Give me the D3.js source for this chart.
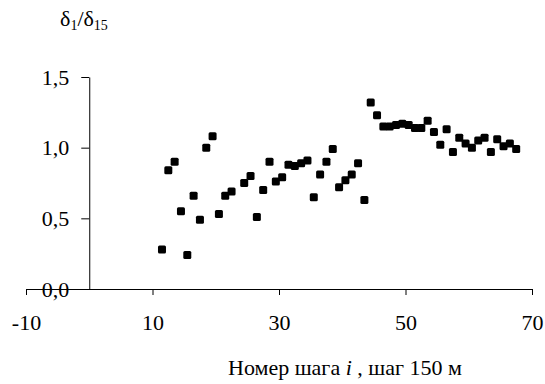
<!DOCTYPE html>
<html>
<head>
<meta charset="utf-8">
<script src="https://cdn.jsdelivr.net/npm/d3@7"></script>
<style>
	body { margin: 0; background: #fff; }
</style>
</head>
<body>
<div id="chart"></div>
<script>
// step number i (150 m step)
var stepNo = [11.5, 12.5, 13.5, 14.5, 15.5, 16.5, 17.5, 18.5, 19.5, 20.5,
	21.5, 22.5, 24.5, 25.5, 26.5, 27.5, 28.5, 29.5, 30.5, 31.5,
	32.5, 33.5, 34.5, 35.5, 36.5, 37.5, 38.5, 39.5, 40.5, 41.5,
	42.5, 43.5, 44.5, 45.5, 46.5, 47.5, 48.5, 49.5, 50.5, 51.5,
	52.5, 53.5, 54.5, 55.5, 56.5, 57.5, 58.5, 59.5, 60.5, 61.5,
	62.5, 63.5, 64.5, 65.5, 66.5, 67.5];

// ratio d1/d15
var ratio = [0.28, 0.84, 0.90, 0.55, 0.24, 0.66, 0.49, 1.00, 1.08, 0.53,
	0.66, 0.69, 0.75, 0.80, 0.51, 0.70, 0.90, 0.76, 0.79, 0.88,
	0.87, 0.89, 0.91, 0.65, 0.81, 0.90, 0.99, 0.72, 0.77, 0.81,
	0.89, 0.63, 1.32, 1.23, 1.15, 1.15, 1.16, 1.17, 1.16, 1.14,
	1.14, 1.19, 1.11, 1.02, 1.13, 0.97, 1.07, 1.03, 1.00, 1.05,
	1.07, 0.97, 1.06, 1.01, 1.03, 0.99];

var xTicks = [-10, 10, 30, 50, 70];
var yTicks = [0, 0.5, 1.0, 1.5];

var width = 545, height = 384;
var serif = "'Times New Roman', 'Liberation Serif', 'DejaVu Serif', serif";
var fontSize = 22;

var svg = d3.select("#chart").append("svg")
	.attr("width", width)
	.attr("height", height)
	.style("font-family", serif);

var x = d3.scaleLinear().domain([-10, 70]).range([26, 532]);
var y = d3.scaleLinear().domain([0, 1.5]).range([289, 77]);

// x axis sits on y = 0
var xAxis = svg.append("g")
	.attr("transform", "translate(0," + y(0) + ")")
	.call(d3.axisBottom(x).tickValues(xTicks).tickSize(6).tickSizeOuter(0).tickPadding(19)
		.tickFormat(function(d) { return String(d); }));

// y axis sits on x = 0
var yAxis = svg.append("g")
	.attr("transform", "translate(" + x(0) + ",0)")
	.call(d3.axisLeft(y).tickValues(yTicks).tickSize(8).tickSizeOuter(0).tickPadding(12)
		.tickFormat(function(d) { return d.toFixed(1).replace(".", ","); }));

[xAxis, yAxis].forEach(function(g) {
	g.attr("font-family", null).attr("font-size", fontSize);
	g.selectAll("path, line").attr("stroke", "#000");
	g.selectAll("text").attr("fill", "#000").style("font-family", serif);
});

// markers
svg.append("g").selectAll("rect")
	.data(stepNo)
	.enter().append("rect")
	.attr("x", function(d) { return x(d) - 4; })
	.attr("y", function(d, i) { return y(ratio[i]) - 4; })
	.attr("width", 8)
	.attr("height", 8)
	.attr("rx", 1.5)
	.attr("ry", 1.5)
	.attr("fill", "#000");

// y title: d1/d15
var yTitle = svg.append("text")
	.attr("x", 60)
	.attr("y", 26)
	.attr("font-size", fontSize)
	.style("font-family", serif);
yTitle.append("tspan").text("δ");
yTitle.append("tspan").attr("font-size", 14).attr("dy", 4).text("1");
yTitle.append("tspan").attr("dy", -4).text("/δ");
yTitle.append("tspan").attr("font-size", 14).attr("dy", 4).text("15");

// x title
var xTitle = svg.append("text")
	.attr("x", 228)
	.attr("y", 375)
	.attr("font-size", fontSize)
	.style("font-family", serif);
xTitle.append("tspan").text("Номер шага ");
xTitle.append("tspan").attr("font-style", "italic").text("i");
xTitle.append("tspan").text(" , шаг 150 м");
</script>
</body>
</html>
